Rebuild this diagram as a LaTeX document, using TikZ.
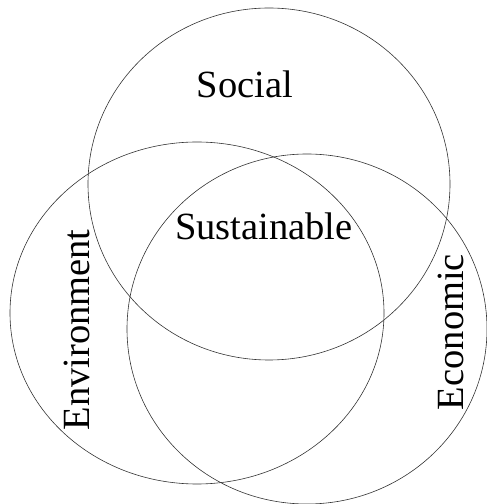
\documentclass[tikz,border=0pt]{standalone}
\usepackage{fontspec}
\setmainfont{Liberation Serif}
\usepackage{tikz}

\begin{document}
\begin{tikzpicture}[
  x=1pt,y=1pt,
  ring/.style={draw=black!80,line width=0.6pt},
  label/.style={font=\fontsize{38.5}{44}\selectfont,inner sep=0pt,anchor=base},
]
  \useasboundingbox (0,0) rectangle (487,504);
  % centres of the three pillars
  \coordinate (social) at (269,320);
  \coordinate (environment) at (197,191);
  \coordinate (economic) at (307,175);
  \draw[ring] (social) ellipse [x radius=181,y radius=176];
  \draw[ring] (environment) ellipse [x radius=187,y radius=171];
  \draw[ring] (economic) ellipse [x radius=180,y radius=175];
  % labels
  \node[label] (soc) at (245,406) {Social};
  \node[label] (sus) at (264,264) {Sustainable};
  \node[label,rotate=90] (env) at (89,174) {Environment};
  \node[label,rotate=90] (eco) at (463,172) {Economic};
\end{tikzpicture}
\end{document}
